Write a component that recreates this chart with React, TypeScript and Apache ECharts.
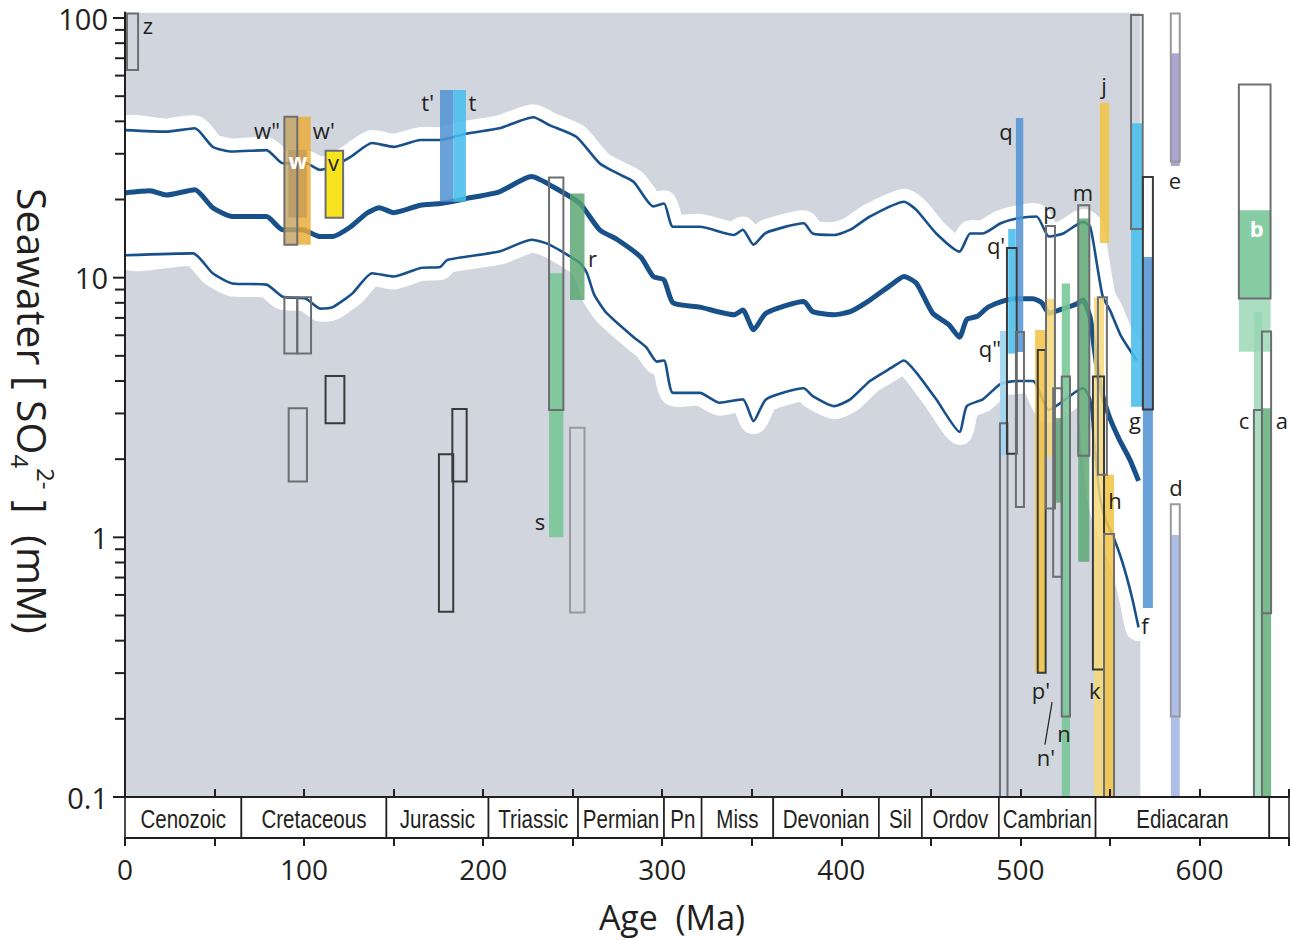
import React, { useEffect, useRef } from "react";
import * as echarts from "echarts";

// ---------------- data (age in Ma, concentration in mM) ----------------
const upperCurve: [number, number][] = [
  [0, 37.0], [23, 36.5], [39, 37.6], [49, 31.9], [60, 30.6], [79, 31.0], [88, 27.6], [101, 27.6],
  [109, 26.0], [116, 26.8], [126, 29.2], [138, 33.0], [150, 31.9], [165, 33.9], [176, 33.9],
  [191, 35.9], [209, 37.6], [228, 41.5], [237, 38.7], [252, 34.9], [265, 27.6], [275, 25.2],
  [284, 23.4], [295, 18.8], [301, 19.3], [306, 15.7], [321, 15.7], [340, 14.6], [345, 15.3],
  [351, 13.4], [358, 14.9], [379, 16.2], [384, 14.8], [396, 14.6], [405, 15.3], [416, 17.2],
  [435, 19.6], [442, 18.2], [453, 14.8], [466, 12.6], [472, 14.8], [479, 14.8], [489, 16.2],
  [498, 16.9], [509, 17.2], [516, 14.4], [524, 14.8], [535, 16.4], [539, 15.7], [543, 11.0],
  [546, 8.45], [550, 7.5], [556, 6.0], [565, 4.8],
];

const middleCurve: [number, number][] = [
  [0, 21.2], [14, 21.6], [23, 20.8], [39, 21.8], [49, 18.6], [60, 17.2], [79, 17.2], [88, 15.3],
  [99, 15.3], [109, 14.4], [116, 14.4], [126, 15.7], [135, 17.7], [142, 18.6], [150, 17.8],
  [165, 19.0], [176, 19.3], [191, 20.2], [209, 21.4], [227, 24.5], [239, 22.4], [254, 19.3],
  [265, 15.3], [275, 14.0], [288, 12.0], [295, 10.1], [301, 9.8], [306, 8.0], [321, 7.7],
  [340, 7.2], [345, 7.5], [351, 6.3], [358, 7.3], [379, 8.1], [384, 7.4], [396, 7.2], [405, 7.4],
  [416, 8.2], [428, 9.4], [435, 10.1], [442, 9.5], [451, 7.3], [460, 6.6], [466, 5.9], [470, 6.9],
  [476, 7.1], [482, 7.7], [492, 8.2], [498, 8.3], [507, 8.3], [512, 8.0], [516, 7.3], [524, 7.6],
  [531, 7.9], [535, 8.2], [539, 7.0], [541, 5.5], [544, 4.0], [549, 3.0], [555, 2.4], [561, 2.0],
  [566, 1.65],
];

const lowerCurve: [number, number][] = [
  [0, 12.2], [38, 12.4], [49, 10.4], [60, 9.5], [79, 9.4], [88, 8.45], [101, 8.3], [109, 7.6],
  [116, 7.7], [127, 8.7], [138, 10.4], [150, 10.1], [165, 10.9], [176, 11.0], [180, 11.7],
  [209, 12.6], [227, 14.0], [237, 13.4], [254, 11.4], [258, 10.4], [262, 8.6], [269, 7.3],
  [284, 5.9], [291, 5.4], [297, 4.75], [301, 4.8], [306, 3.6], [321, 3.6], [332, 3.3], [345, 3.4],
  [351, 2.8], [358, 3.4], [379, 3.75], [384, 3.5], [396, 3.2], [405, 3.4], [416, 4.0], [428, 4.5],
  [435, 4.8], [442, 4.3], [453, 3.4], [466, 2.55], [470, 3.2], [479, 3.4], [489, 3.9], [498, 4.0],
  [507, 4.0], [516, 3.1], [535, 3.75], [539, 3.4], [541, 2.4], [544, 1.5], [547, 1.2], [552, 1.0],
  [557, 0.8], [562, 0.6], [566, 0.45],
];

const periodNames = [
  "Cenozoic", "Cretaceous", "Jurassic", "Triassic", "Permian", "Pn", "Miss", "Devonian", "Sil",
  "Ordov", "Cambrian", "Ediacaran", "",
];
const periodBounds = [0, 65, 146, 203, 253, 301, 322, 362, 421, 445, 488, 542, 639, 650];

const xTickLabels = [0, 100, 200, 300, 400, 500, 600];
const yMajorTicks = [0.1, 1, 10, 100];
const yTickLabels = ["0.1", "1", "10", "100"];
const yMinorTicks = [
  0.2, 0.3, 0.4, 0.5, 0.6, 0.7, 0.8, 0.9,
  2, 3, 4, 5, 6, 7, 8, 9,
  20, 30, 40, 50, 60, 70, 80, 90,
];

const ageMax = 650;
const concMin = 0.1;
const concMax = 105;
const grayFieldAge = 567;

// filled bars: [kind, age from, age to, conc low, conc high]
const filledBars: [string, number, number, number, number][] = [
  ["tan", 89.0, 96.2, 13.4, 41.7],
  ["orange", 96.4, 103.7, 13.4, 41.7],
  ["tanDark", 91.2, 101.5, 17.0, 31.0],
  ["yellow", 112.0, 121.8, 17.0, 30.8],
  ["blue", 175.9, 183.3, 19.6, 52.8],
  ["cyan", 183.3, 190.4, 19.6, 52.8],
  ["mint", 236.8, 244.8, 1.0, 10.4],
  ["green", 248.5, 256.6, 8.2, 21.1],
  ["skyLight", 488.6, 492.8, 2.07, 6.23],
  ["cyan", 493.2, 497.4, 5.1, 15.4],
  ["blue", 497.5, 501.6, 5.17, 41.2],
  ["gold", 508.2, 513.8, 0.301, 6.29],
  ["paleGold", 514.3, 519.3, 2.04, 8.3],
  ["green", 519.3, 523.1, 1.36, 2.88],
  ["mint", 523.1, 527.7, 0.1, 9.5],
  ["green", 532.3, 538.5, 0.806, 16.9],
  ["paleGold", 541.1, 546.7, 0.1, 8.4],
  ["gold", 546.7, 552.3, 0.1, 1.74],
  ["gold", 544.4, 549.6, 13.6, 47.2],
  ["cyan", 561.8, 568.3, 3.18, 39.3],
  ["blue", 568.4, 574.0, 0.534, 12.0],
  ["lavender", 584.0, 589.0, 26.9, 73.1],
  ["periwinkle", 584.0, 589.0, 0.1, 1.02],
  ["mint", 622.0, 639.7, 8.32, 18.2],
  ["mintLight", 622.0, 639.7, 5.19, 8.32],
  ["mintLight", 630.4, 634.9, 0.1, 7.36],
  ["greenMid", 634.9, 640.0, 0.1, 3.14],
];

// outlined boxes: [kind, age from, age to, conc low, conc high]
const outlinedBoxes: [string, number, number, number, number][] = [
  ["mid", 1.1, 7.3, 63, 104],
  ["mid", 89.0, 96.2, 13.4, 41.7],
  ["mid", 112.0, 121.8, 17.0, 30.8],
  ["mid", 89.0, 96.2, 5.1, 8.4],
  ["mid", 96.2, 103.9, 5.1, 8.4],
  ["dark", 112.0, 122.5, 2.75, 4.18],
  ["mid", 91.4, 101.6, 1.64, 3.14],
  ["dark", 175.3, 183.3, 0.517, 2.09],
  ["dark", 182.8, 190.8, 1.64, 3.12],
  ["mid", 236.8, 244.8, 3.09, 24.3],
  ["light", 248.5, 256.6, 0.514, 2.64],
  ["mid", 488.6, 492.8, 0.1, 2.75],
  ["dark", 492.5, 497.9, 2.1, 13.0],
  ["mid", 497.5, 502.0, 1.31, 6.18],
  ["dark", 509.7, 514.1, 0.301, 5.27],
  ["mid", 514.3, 519.3, 1.29, 15.8],
  ["mid", 518.3, 523.1, 0.705, 3.75],
  ["mid", 523.1, 527.7, 0.204, 4.16],
  ["mid", 532.3, 538.5, 2.06, 19.0],
  ["dark", 540.5, 546.7, 0.31, 4.16],
  ["mid", 543.3, 548.3, 1.74, 8.4],
  ["mid", 546.7, 552.3, 0.1, 1.03],
  ["mid", 561.8, 568.3, 15.4, 102.7],
  ["dark", 568.4, 574.0, 3.11, 24.4],
  ["light", 584.0, 589.0, 28.0, 104],
  ["light", 584.0, 589.0, 0.204, 1.34],
  ["mid", 622.0, 639.7, 8.32, 55.5],
  ["mid", 630.4, 634.9, 0.1, 3.09],
  ["mid", 634.9, 640.0, 0.51, 6.2],
];

// letter labels: [text, age, conc]
const letterLabels: [string, number, number][] = [
  ["z", 12.8, 94], ['w"', 79.3, 37.0], ["w'", 111, 37.0], ["w", 96.6, 28.4], ["v", 116.5, 28],
  ["t'", 169, 47.5], ["t", 194, 47.5], ["r", 261, 11.9], ["s", 231.7, 1.16],
  ["q", 492, 36.7], ["q'", 486.4, 13.4], ['q"', 483, 5.36], ["p", 516.5, 18.2], ["m", 535, 21.4],
  ["j", 546.7, 55.2], ["e", 586.3, 23.8], ["g", 564, 2.83], ["h", 552.8, 1.39], ["f", 569.6, 0.46],
  ["d", 586.9, 1.56], ["b", 632, 15.5], ["c", 624.9, 2.83], ["a", 646, 2.83],
  ["p'", 511.5, 0.258], ["k", 541.6, 0.258], ["n", 524.3, 0.176], ["n'", 514.3, 0.143],
];
const whiteLetters = ["w", "b"];
const nPrimeLeader: [number, number][] = [[517.7, 0.232], [513.7, 0.159]];

// ---------------- styles ----------------
const INK = "#231f20";
const LINE_BLUE = "#18508a";
const GRAY_FIELD = "#d1d5dd";
const FILL_COLORS: Record<string, string> = {
  tan: "rgba(196,164,96,0.82)",
  orange: "rgba(234,170,52,0.82)",
  tanDark: "rgba(150,118,70,0.35)",
  yellow: "rgba(248,228,30,1)",
  blue: "rgba(84,148,212,0.88)",
  cyan: "rgba(72,190,236,0.88)",
  skyLight: "rgba(160,214,242,0.92)",
  green: "rgba(88,165,112,0.82)",
  mint: "rgba(118,198,150,0.88)",
  mintLight: "rgba(150,214,178,0.8)",
  greenMid: "rgba(104,178,126,0.88)",
  gold: "rgba(242,196,72,0.88)",
  paleGold: "rgba(246,216,120,0.85)",
  lavender: "rgba(164,158,206,0.92)",
  periwinkle: "rgba(166,186,228,0.92)",
};
const STROKE_COLORS: Record<string, string> = { mid: "#6d6e71", dark: "#3a3a3a", light: "#9a9a9c" };

export default function App() {
  const ref = useRef<HTMLDivElement>(null);

  useEffect(() => {
    if (!ref.current) return;
    const chart = echarts.init(ref.current, null, { renderer: "svg" });

    const rectFromBox = (api: any, b: [string, number, number, number, number]) => {
      const p0 = api.coord([b[1], b[4]]);
      const p1 = api.coord([b[2], b[3]]);
      return { x: p0[0], y: p0[1], width: p1[0] - p0[0], height: p1[1] - p0[1] };
    };

    const option: any = {
      animation: false,
      backgroundColor: "#ffffff",
      grid: [
        { left: 125, top: 12.5, width: 1164, height: 784.5, outerBoundsMode: "none" },
        { left: 125, top: 797, width: 1164, height: 41, outerBoundsMode: "none" },
      ],
      xAxis: [
        {
          gridIndex: 0, type: "value", min: 0, max: ageMax, interval: 50, z: 10,
          axisLine: { show: true, lineStyle: { color: INK, width: 2 } },
          axisTick: { show: true, inside: true, length: 8, lineStyle: { color: INK, width: 2 } },
          axisLabel: { show: false }, splitLine: { show: false },
        },
        {
          gridIndex: 1, type: "value", min: 0, max: ageMax, interval: 50, z: 10,
          axisLine: { show: true, lineStyle: { color: INK, width: 2 } },
          axisTick: { show: true, inside: false, length: 8, lineStyle: { color: INK, width: 2 } },
          axisLabel: {
            show: true, margin: 16, fontSize: 28, lineHeight: 30, fontFamily: "Open Sans", color: INK,
            formatter: (v: number) => (xTickLabels.indexOf(Math.round(v)) >= 0 ? String(Math.round(v)) : ""),
          },
          splitLine: { show: false },
        },
      ],
      yAxis: [
        {
          gridIndex: 0, type: "log", logBase: 10, min: concMin, max: concMax, z: 10,
          axisLine: { show: true, lineStyle: { color: INK, width: 2 } },
          axisTick: { show: false },
          axisLabel: {
            margin: 17, fontSize: 29, lineHeight: 28, fontFamily: "Open Sans", color: INK,
            formatter: (v: number) => {
              const k = yMajorTicks.findIndex((t) => Math.abs(Math.log10(v) - Math.log10(t)) < 1e-6);
              return k >= 0 ? yTickLabels[k] : "";
            },
          },
          splitLine: { show: false },
        },
        { gridIndex: 1, type: "value", min: 0, max: 1, show: false },
      ],
      graphic: [
        {
          type: "text", x: 33, y: 411, rotation: -Math.PI / 2, silent: true,
          style: {
            text: "Seawater [ SO{sub|4}{sup|2-} ]  (mM)",
            fontSize: 41, fontFamily: "Open Sans", fill: INK, lineHeight: 50,
            textAlign: "center", textVerticalAlign: "middle", align: "center", verticalAlign: "middle",
            rich: {
              sub: { fontSize: 24, fontFamily: "Open Sans", fill: INK, verticalAlign: "bottom", lineHeight: 24 },
              sup: { fontSize: 24, fontFamily: "Open Sans", fill: INK, verticalAlign: "top", lineHeight: 24 },
            },
          },
        },
        {
          type: "text", x: 672, y: 917, silent: true,
          style: {
            text: "Age  (Ma)", fontSize: 34, lineHeight: 36, fontFamily: "Open Sans", fill: INK,
            textAlign: "center", textVerticalAlign: "middle", align: "center", verticalAlign: "middle",
          },
        },
      ],
      series: [
        // gray field
        {
          type: "custom", xAxisIndex: 0, yAxisIndex: 0, z: 1, silent: true, clip: true,
          data: [[0, concMin, grayFieldAge, concMax]],
          encode: { x: [0, 2], y: [1, 3] },
          renderItem: (_p: any, api: any) => {
            const a = api.coord([0, concMax]);
            const b = api.coord([grayFieldAge, concMin]);
            return { type: "rect", shape: { x: a[0], y: a[1], width: b[0] - a[0], height: b[1] - a[1] }, style: { fill: GRAY_FIELD } };
          },
        },
        // white envelope
        {
          type: "custom", xAxisIndex: 0, yAxisIndex: 0, z: 2, silent: true, clip: true,
          data: [[0, 10]],
          renderItem: (_p: any, api: any) => {
            const pts = upperCurve.map((d) => api.coord(d)).concat(lowerCurve.slice().reverse().map((d) => api.coord(d)));
            return { type: "polygon", shape: { points: pts, smooth: 0.2 }, style: { fill: "#ffffff", stroke: "#ffffff", lineWidth: 26, lineJoin: "round" } };
          },
        },
        // curves
        {
          type: "line", xAxisIndex: 0, yAxisIndex: 0, z: 3, silent: true, data: upperCurve, smooth: 0.2,
          showSymbol: false, symbol: "none", lineStyle: { color: LINE_BLUE, width: 2.6 },
        },
        {
          type: "line", xAxisIndex: 0, yAxisIndex: 0, z: 3, silent: true, data: middleCurve, smooth: 0.2,
          showSymbol: false, symbol: "none", lineStyle: { color: LINE_BLUE, width: 5 },
        },
        {
          type: "line", xAxisIndex: 0, yAxisIndex: 0, z: 3, silent: true, data: lowerCurve, smooth: 0.2,
          showSymbol: false, symbol: "none", lineStyle: { color: LINE_BLUE, width: 2.6 },
        },
        // filled bars
        {
          type: "custom", xAxisIndex: 0, yAxisIndex: 0, z: 4, silent: true,
          data: filledBars.map((b) => [b[1], b[3], b[2], b[4]]),
          encode: { x: [0, 2], y: [1, 3] },
          renderItem: (p: any, api: any) => {
            const b = filledBars[p.dataIndex];
            return { type: "rect", shape: rectFromBox(api, b), style: { fill: FILL_COLORS[b[0]] } };
          },
        },
        // outlined boxes
        {
          type: "custom", xAxisIndex: 0, yAxisIndex: 0, z: 5, silent: true,
          data: outlinedBoxes.map((b) => [b[1], b[3], b[2], b[4]]),
          encode: { x: [0, 2], y: [1, 3] },
          renderItem: (p: any, api: any) => {
            const b = outlinedBoxes[p.dataIndex];
            return { type: "rect", shape: rectFromBox(api, b), style: { fill: "none", stroke: STROKE_COLORS[b[0]], lineWidth: 2 } };
          },
        },
        // letter labels
        {
          type: "custom", xAxisIndex: 0, yAxisIndex: 0, z: 6, silent: true, clip: false,
          data: letterLabels.map((l) => [l[1], l[2]]),
          renderItem: (p: any, api: any) => {
            const l = letterLabels[p.dataIndex];
            const c = api.coord([l[1], l[2]]);
            const white = whiteLetters.indexOf(l[0]) >= 0;
            return {
              type: "text", x: c[0], y: c[1],
              style: {
                text: l[0], fill: white ? "#ffffff" : INK, fontSize: 22,
                fontWeight: white ? "bold" : "normal", fontFamily: "Open Sans",
                textAlign: "center", textVerticalAlign: "middle", align: "center", verticalAlign: "middle",
              },
            };
          },
        },
        // n' leader line
        {
          type: "custom", xAxisIndex: 0, yAxisIndex: 0, z: 6, silent: true,
          data: [nPrimeLeader[0]],
          renderItem: (_p: any, api: any) => {
            const a = api.coord(nPrimeLeader[0]);
            const b = api.coord(nPrimeLeader[1]);
            return { type: "line", shape: { x1: a[0], y1: a[1], x2: b[0], y2: b[1] }, style: { stroke: INK, lineWidth: 1.2 } };
          },
        },
        // y-axis ticks (major and minor decades)
        {
          type: "custom", xAxisIndex: 0, yAxisIndex: 0, z: 6, silent: true, clip: false,
          data: yMajorTicks.concat(yMinorTicks).map((v) => [0, v]),
          renderItem: (_p: any, api: any) => {
            const v = api.value(1);
            const c = api.coord([0, v]);
            const major = yMajorTicks.some((t) => Math.abs(Math.log10(t) - Math.log10(v)) < 1e-6);
            const len = major ? 12 : 10;
            return { type: "line", shape: { x1: c[0] - len, y1: c[1], x2: c[0], y2: c[1] }, style: { stroke: INK, lineWidth: 2 } };
          },
        },
        // geological periods
        {
          type: "custom", xAxisIndex: 1, yAxisIndex: 1, z: 2, silent: true, clip: false,
          data: periodNames.map((_n, i) => [periodBounds[i], 0.5]),
          renderItem: (p: any, api: any) => {
            const i = p.dataIndex;
            const a = api.coord([periodBounds[i], 1]);
            const b = api.coord([periodBounds[i + 1], 0]);
            return {
              type: "group",
              children: [
                { type: "rect", shape: { x: a[0], y: a[1], width: b[0] - a[0], height: b[1] - a[1] }, style: { fill: "#ffffff", stroke: INK, lineWidth: 1.6 } },
                {
                  type: "text", x: (a[0] + b[0]) / 2, y: (a[1] + b[1]) / 2 + 2, scaleX: 0.79, scaleY: 1,
                  style: {
                    text: periodNames[i], fill: INK, fontSize: 26, fontFamily: "Liberation Sans",
                    textAlign: "center", textVerticalAlign: "middle", align: "center", verticalAlign: "middle",
                  },
                },
              ],
            };
          },
        },
      ],
    };

    chart.setOption(option);
    return () => chart.dispose();
  }, []);

  return <div ref={ref} style={{ position: "absolute", left: 0, top: 0, width: 1290, height: 940 }} />;
}
